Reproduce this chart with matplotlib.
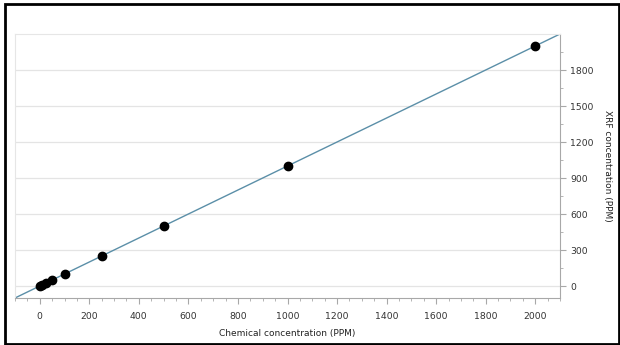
import numpy as np
import matplotlib.pyplot as plt
from matplotlib.patches import Rectangle
from matplotlib.ticker import MultipleLocator

# concentraciones quimicas vs lecturas XRF (PPM)
chem = [0, 10, 25, 50, 100, 250, 500, 1000, 2000]
xrf = [0, 8, 22, 48, 104, 250, 502, 1002, 2000]

# recta de calibracion y = x
fit_x = np.array([-100, 2100])
fit_y = fit_x * 1.0

fig = plt.figure(figsize=(6.2, 3.45), dpi=100)
ax = fig.add_axes([15/620, 1-298/345, (560-15)/620, (298-34)/345])

ax.plot(fit_x, fit_y, color='#5b8fa8', linewidth=1.0, zorder=2)
ax.plot(chem, xrf, 'o', color='black', markersize=6, zorder=3)

ax.set_xlim(-100, 2100)
ax.set_ylim(-100, 2100)
ax.xaxis.set_major_locator(MultipleLocator(200))
ax.xaxis.set_minor_locator(MultipleLocator(50))
ax.set_yticks(np.arange(0, 2001, 300))
ax.set_yticks(np.arange(150, 2001, 300), minor=True)
ax.yaxis.tick_right()
ax.yaxis.set_label_position('right')
ax.grid(axis='y', color='#e4e4e4', linewidth=0.9)
ax.set_axisbelow(True)

for s in ['left', 'top']:
    ax.spines[s].set_color('#e6e6e6')
for s in ['bottom', 'right']:
    ax.spines[s].set_color('#a8a8a8')

ax.tick_params(which='both', colors='#a8a8a8', labelcolor='#333333', labelsize=6.7)
ax.tick_params(which='major', length=4)
ax.tick_params(which='minor', length=2)
ax.tick_params(axis='x', pad=6)

ax.set_xlabel('Chemical concentration (PPM)', fontsize=6.5, color='#222222', labelpad=6)
ax.set_ylabel('XRF concentration (PPM)', fontsize=6.5, color='#222222', rotation=270, labelpad=13)

# marco negro alrededor de la figura
fig.patches.append(Rectangle((5/620, 1/345), 614/620, 340/345, transform=fig.transFigure,
                             fill=False, edgecolor='black', linewidth=2))

plt.savefig('out.png', dpi=100)
